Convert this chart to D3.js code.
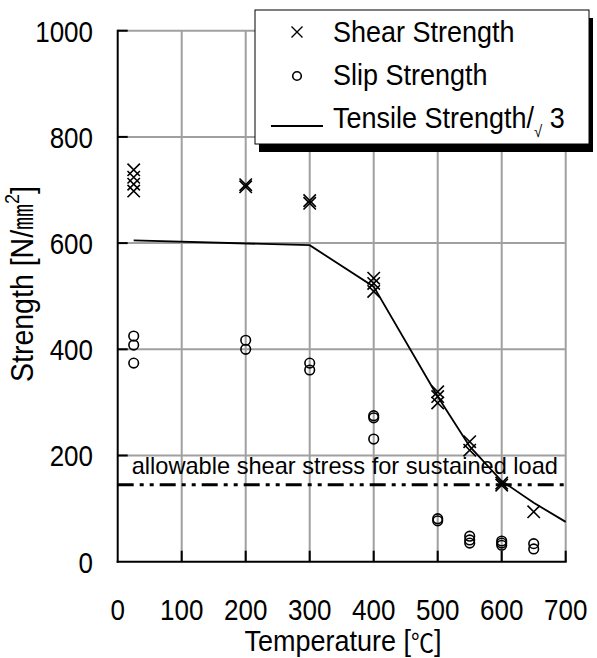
<!DOCTYPE html>
<html>
<head>
<meta charset="utf-8">
<script src="https://cdn.jsdelivr.net/npm/d3@7"></script>
<style>
  html, body { margin: 0; padding: 0; background: #fff; }
  svg { display: block; font-family: "Liberation Sans", Arial, sans-serif; }
</style>
</head>
<body>
<svg id="chart" width="597" height="658"></svg>
<script>
// --- data ---
const shearTemp  = [25, 25, 25, 25, 200, 200, 300, 300, 400, 400, 400, 500, 500, 500, 550, 550, 600, 600, 650];
const shearValue = [738, 724, 711, 698, 710, 706, 680, 675, 534, 524, 509, 320, 311, 299, 226, 210, 148, 144, 94];

const slipTemp  = [25, 25, 25, 200, 200, 300, 300, 400, 400, 400, 500, 500, 550, 550, 550, 600, 600, 600, 650, 650];
const slipValue = [425, 408, 374, 417, 400, 374, 361, 275, 271, 231, 81, 77, 48, 41, 35, 39, 35, 31, 34, 24];

const tensileTemp  = [25, 300, 400, 500, 550, 600, 650, 700];
const tensileValue = [605, 596, 518, 311, 217, 152, 111, 75];

const allowableStress = 145;

const xTicks = [0, 100, 200, 300, 400, 500, 600, 700];
const yTicks = [0, 200, 400, 600, 800, 1000];

// --- scales ---
const x = d3.scaleLinear().domain([0, 700]).range([117.7, 565.7]);
const y = d3.scaleLinear().domain([0, 1000]).range([561.7, 30.7]);

const svg = d3.select('#chart');

// text helper: glyphs in the picture are a bit taller than Arial
function label(parent, px, py, str, size, k, anchor, rot) {
    return parent.append('text')
        .attr('transform', `translate(${px},${py})${rot ? ' rotate(' + rot + ')' : ''} scale(1,${k})`)
        .attr('font-size', size)
        .attr('text-anchor', anchor || 'start')
        .attr('fill', '#000')
        .text(str);
}

// --- grid ---
const grid = svg.append('g').attr('stroke', '#a0a0a0').attr('stroke-width', 2);
grid.selectAll('.vg').data(xTicks.slice(1)).enter().append('line')
    .attr('x1', d => x(d)).attr('x2', d => x(d))
    .attr('y1', y(0)).attr('y2', y(1000));
grid.selectAll('.hg').data(yTicks.slice(1)).enter().append('line')
    .attr('x1', x(0)).attr('x2', x(700))
    .attr('y1', d => y(d)).attr('y2', d => y(d));

// --- allowable shear stress line ---
svg.append('line')
    .attr('x1', x(0)).attr('x2', x(700))
    .attr('y1', y(allowableStress)).attr('y2', y(allowableStress))
    .attr('stroke', '#000').attr('stroke-width', 3)
    .attr('stroke-dasharray', '16,6,4,6,4,6');

label(svg, 131.7, 474, 'allowable shear stress for sustained load', 23.6, 1);

// --- tensile strength / sqrt 3 ---
const line = d3.line().x((d, i) => x(tensileTemp[i])).y(d => y(d));
svg.append('path')
    .attr('d', line(tensileValue))
    .attr('fill', 'none').attr('stroke', '#000').attr('stroke-width', 1.8);

// --- markers ---
const cross = 6.2;
svg.append('g').selectAll('path').data(shearValue).enter().append('path')
    .attr('d', (d, i) => {
        const cx = x(shearTemp[i]), cy = y(d);
        return `M${cx - cross},${cy - cross}L${cx + cross},${cy + cross}M${cx - cross},${cy + cross}L${cx + cross},${cy - cross}`;
    })
    .attr('stroke', '#000').attr('stroke-width', 1.6).attr('fill', 'none');

svg.append('g').selectAll('circle').data(slipValue).enter().append('circle')
    .attr('cx', (d, i) => x(slipTemp[i]))
    .attr('cy', d => y(d))
    .attr('r', 4.8)
    .attr('fill', 'none').attr('stroke', '#000').attr('stroke-width', 1.6);

// --- axes ---
const axes = svg.append('g').attr('stroke', '#000').attr('stroke-width', 2);
axes.append('line').attr('x1', x(0)).attr('x2', x(0)).attr('y1', y(0) + 1).attr('y2', y(1000) - 1);
axes.append('line').attr('x1', x(0) - 1).attr('x2', x(700) + 1).attr('y1', y(0)).attr('y2', y(0));
axes.selectAll('.yt').data(yTicks.slice(1)).enter().append('line')
    .attr('x1', x(0)).attr('x2', x(0) + 10)
    .attr('y1', d => y(d)).attr('y2', d => y(d));
axes.selectAll('.xt').data(xTicks.slice(1)).enter().append('line')
    .attr('x1', d => x(d)).attr('x2', d => x(d))
    .attr('y1', y(0)).attr('y2', y(0) - 11);

// tick labels
yTicks.forEach(v => label(svg, 93, y(v) + 10.9, String(v), 26, 1.17, 'end'));
xTicks.forEach(v => label(svg, x(v), 620, String(v), 26, 1.17, 'middle'));

// axis titles
const xt = label(svg, 343, 650.5, 'Temperature [', 27, 1.07, 'middle');
xt.append('tspan').attr('font-family', '"Noto Sans CJK JP"').attr('font-size', 23).attr('dy', 1).text('℃');
xt.append('tspan').attr('dy', -1).text(']');

const yt = label(svg, 33, 284, 'Strength [N/', 28.5, 1.08, 'middle', -90);
yt.append('tspan').attr('font-family', '"Noto Sans CJK JP"').attr('font-size', 26).text('㎜');
yt.append('tspan').attr('font-size', 18).attr('dy', -13).text('2');
yt.append('tspan').attr('dy', 13).text(']');

// --- legend ---
const legend = svg.append('g');
legend.append('rect').attr('x', 259).attr('y', 18).attr('width', 334).attr('height', 134).attr('fill', '#000');
legend.append('rect').attr('x', 255).attr('y', 10).attr('width', 334).attr('height', 134)
    .attr('fill', '#fff').attr('stroke', '#000').attr('stroke-width', 1);

const lc = 5.5;
legend.append('path')
    .attr('d', `M${297 - lc},${32 - lc}L${297 + lc},${32 + lc}M${297 - lc},${32 + lc}L${297 + lc},${32 - lc}`)
    .attr('stroke', '#000').attr('stroke-width', 1.4);
legend.append('circle').attr('cx', 297).attr('cy', 76).attr('r', 4.3)
    .attr('fill', 'none').attr('stroke', '#000').attr('stroke-width', 1.6);
legend.append('line').attr('x1', 271).attr('x2', 323).attr('y1', 126).attr('y2', 126)
    .attr('stroke', '#000').attr('stroke-width', 1.8);

label(legend, 333, 41.7, 'Shear Strength', 27, 1.12);
label(legend, 333, 85, 'Slip Strength', 27, 1.12);
const tl = label(legend, 333, 128, 'Tensile Strength/', 27, 1.12);
tl.append('tspan').attr('font-size', 15).attr('dy', 8).text('√');
tl.append('tspan').attr('dy', -8).text(' 3');
</script>
</body>
</html>
